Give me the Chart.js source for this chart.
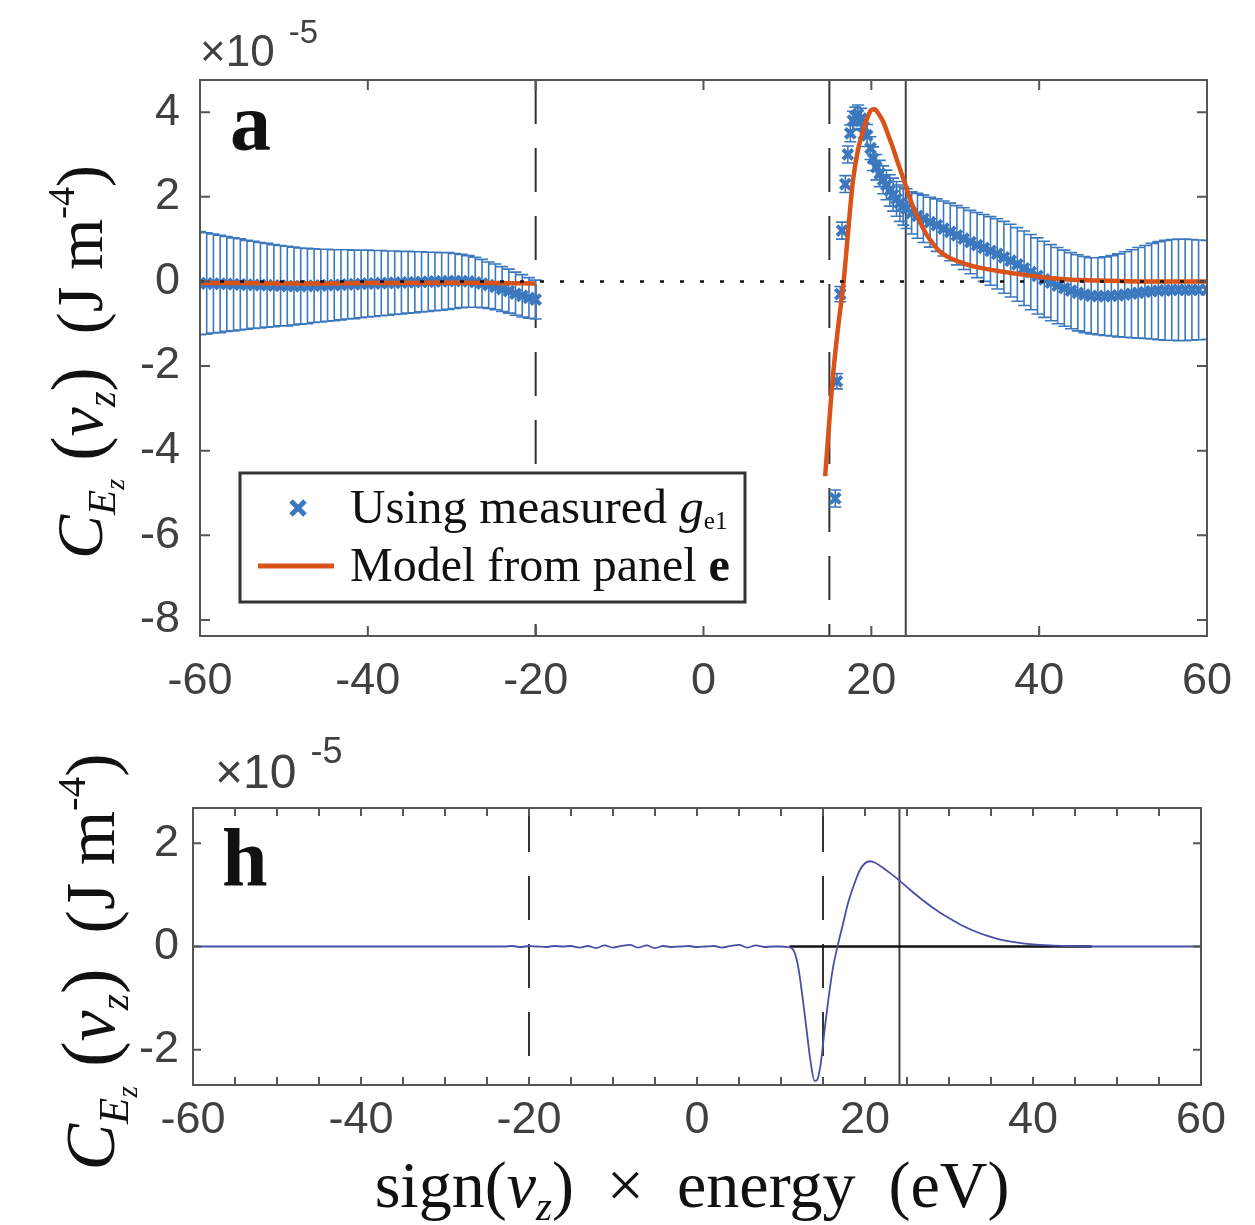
<!DOCTYPE html>
<html>
<head>
<meta charset="utf-8">
<script src="https://cdn.jsdelivr.net/npm/chart.js@4.4.1/dist/chart.umd.min.js"></script>
<style>
  html, body { margin: 0; padding: 0; background: #fff; }
  body { width: 1255px; height: 1225px; position: relative; overflow: hidden; }
  canvas { position: absolute; left: 0; }
  #topChart { top: 0; }
  #bottomChart { top: 720px; }
</style>
</head>
<body>
<canvas id="topChart" width="1255" height="720"></canvas>
<canvas id="bottomChart" width="1255" height="505"></canvas>
<script>
// ---- panel a: measured correlation (x1e-5 J m^-4) with error bars ----
const leftE = [
  -60.0, -59.2, -58.4, -57.6, -56.8, -56.0, -55.2, -54.4, -53.6, -52.8,
  -52.0, -51.2, -50.4, -49.6, -48.8, -48.0, -47.2, -46.4, -45.6, -44.8,
  -44.0, -43.2, -42.4, -41.6, -40.8, -40.0, -39.2, -38.4, -37.6, -36.8,
  -36.0, -35.2, -34.4, -33.6, -32.8, -32.0, -31.2, -30.4, -29.6, -28.8,
  -28.0, -27.2, -26.4, -25.6, -24.8, -24.0, -23.2, -22.4, -21.6, -20.8,
  -20.0]
const leftC = [
  -0.04, -0.05, -0.05, -0.06, -0.06, -0.07, -0.07, -0.08, -0.08, -0.09,
  -0.09, -0.10, -0.10, -0.11, -0.11, -0.11, -0.11, -0.10, -0.10, -0.09,
  -0.09, -0.08, -0.07, -0.07, -0.06, -0.05, -0.05, -0.04, -0.04, -0.03,
  -0.03, -0.02, -0.02, -0.01, -0.01, 0.00, 0.00, 0.01, 0.01, 0.01,
  0.00, -0.02, -0.05, -0.09, -0.13, -0.18, -0.23, -0.29, -0.34, -0.39,
  -0.43]
const leftErr = [
  1.22, 1.20, 1.17, 1.15, 1.12, 1.10, 1.08, 1.05, 1.03, 1.01,
  0.99, 0.97, 0.95, 0.94, 0.92, 0.90, 0.89, 0.87, 0.86, 0.85,
  0.84, 0.83, 0.82, 0.81, 0.80, 0.79, 0.78, 0.77, 0.76, 0.75,
  0.74, 0.73, 0.72, 0.71, 0.70, 0.69, 0.68, 0.67, 0.65, 0.63,
  0.61, 0.59, 0.57, 0.55, 0.54, 0.53, 0.52, 0.51, 0.50, 0.48,
  0.46]

const rightE = [
  15.7, 15.9, 16.3, 16.5, 16.9, 17.2, 17.5, 17.8, 18.1, 18.4,
  18.8, 19.1, 19.5, 19.9, 20.2, 20.6, 21.0, 21.4, 21.8, 22.2,
  22.6, 23.0, 23.4, 23.8, 24.2, 24.8, 25.5, 26.2, 27.0, 27.8,
  28.6, 29.4, 30.2, 31.0, 31.8, 32.6, 33.4, 34.2, 35.0, 35.8,
  36.6, 37.4, 38.2, 39.0, 39.8, 40.6, 41.4, 42.2, 43.0, 43.8,
  44.6, 45.4, 46.2, 47.0, 47.8, 48.6, 49.4, 50.2, 51.0, 51.8,
  52.6, 53.4, 54.2, 55.0, 55.8, 56.6, 57.4, 58.2, 59.0, 60.0]
const rightC = [
  -5.13, -2.36, -0.30, 1.20, 2.30, 3.00, 3.50, 3.80, 3.90, 3.95,
  3.85, 3.65, 3.45, 3.15, 2.90, 2.70, 2.55, 2.40, 2.28, 2.15,
  2.05, 1.95, 1.85, 1.78, 1.72, 1.62, 1.55, 1.48, 1.40, 1.33,
  1.25, 1.17, 1.09, 1.01, 0.93, 0.86, 0.79, 0.72, 0.65, 0.57,
  0.49, 0.40, 0.31, 0.22, 0.13, 0.05, -0.03, -0.10, -0.16, -0.22,
  -0.27, -0.31, -0.34, -0.35, -0.35, -0.34, -0.33, -0.31, -0.29, -0.27,
  -0.25, -0.23, -0.22, -0.21, -0.20, -0.20, -0.20, -0.20, -0.20, -0.20]
const rightErr = [
  0.20, 0.18, 0.18, 0.20, 0.20, 0.20, 0.20, 0.22, 0.22, 0.22,
  0.24, 0.25, 0.26, 0.27, 0.28, 0.30, 0.31, 0.33, 0.35, 0.37,
  0.39, 0.41, 0.43, 0.45, 0.47, 0.50, 0.53, 0.56, 0.59, 0.62,
  0.65, 0.68, 0.70, 0.73, 0.75, 0.77, 0.79, 0.81, 0.83, 0.85,
  0.86, 0.87, 0.88, 0.89, 0.90, 0.90, 0.90, 0.90, 0.90, 0.90,
  0.90, 0.90, 0.90, 0.91, 0.93, 0.95, 0.98, 1.01, 1.04, 1.07,
  1.10, 1.13, 1.16, 1.18, 1.19, 1.20, 1.20, 1.19, 1.18, 1.17]

// model from panel e
const modelLeftE = [-60, -55, -50, -45, -40, -35, -30, -25, -20]
const modelLeftC = [-0.04, -0.04, -0.05, -0.05, -0.04, -0.04, -0.03, -0.04, -0.05]
const modelRightE = [
  14.5, 15.4, 16.0, 16.7, 17.2, 17.8, 18.4, 19.0, 19.6, 20.0,
  20.4, 20.8, 21.4, 22.0, 22.5, 23.0, 23.6, 24.2, 24.8, 25.4,
  26.0, 26.6, 27.4, 28.2, 29.5, 31.4, 33.0, 35.3, 38.0, 41.3,
  44.0, 47.3, 52.0, 56.0, 60.0]
const modelRightC = [
  -4.60, -2.30, -1.15, 0.00, 1.10, 2.36, 3.10, 3.55, 3.90, 4.05,
  4.07, 3.98, 3.78, 3.47, 3.20, 2.90, 2.55, 2.20, 1.85, 1.58,
  1.32, 1.10, 0.88, 0.70, 0.54, 0.40, 0.32, 0.24, 0.16, 0.08,
  0.04, 0.02, 0.00, 0.00, 0.00]

// ---- panel h ----
const hE = [
  -60, -23, -22, -21, -20, -19, -18, -17, -16, -15,
  -14, -13, -12, -11, -10, -9, -8, -7, -6, -5,
  -4, -3, -2, -1, 0, 1, 2, 3, 4, 5,
  6, 7, 8, 9, 10, 10.8, 11.4, 12.0, 12.5, 13.0,
  13.5, 14.0, 14.3, 14.7, 15.2, 15.7, 16.2, 16.8, 17.4, 18.0,
  18.7, 19.4, 20.0, 20.6, 21.2, 22.0, 23.0, 24.0, 25.0, 26.0,
  27.0, 28.0, 29.0, 30.0, 31.5, 33.0, 34.5, 36.0, 38.0, 40.0,
  42.0, 44.0, 46.0, 48.0, 60.0]
const hC = [
  0.00, 0.00, 0.01, -0.01, 0.01, 0.00, -0.01, 0.01, 0.00, 0.01,
  -0.02, 0.01, -0.03, 0.02, -0.02, 0.01, 0.03, -0.02, 0.02, -0.03,
  0.01, -0.01, 0.00, 0.01, -0.01, 0.00, 0.01, -0.02, 0.01, 0.03,
  -0.02, 0.02, -0.01, 0.00, 0.00, -0.01, -0.05, -0.35, -0.90, -1.55,
  -2.20, -2.60, -2.58, -2.30, -1.60, -0.95, -0.40, 0.05, 0.45, 0.85,
  1.20, 1.48, 1.61, 1.65, 1.62, 1.54, 1.42, 1.29, 1.15, 1.01,
  0.88, 0.76, 0.65, 0.55, 0.41, 0.30, 0.21, 0.14, 0.08, 0.04,
  0.02, 0.01, 0.00, 0.00, 0.00]
const hZeroE = [11, 47]
const hZeroC = [0, 0]

// axes and reference lines
const xTickLabels = [-60, -40, -20, 0, 20, 40, 60]
const xMinorTicks = [-55, -50, -45, -35, -30, -25, -15, -10, -5, 5, 10, 15, 25, 30, 35, 45, 50, 55]
const topYTicks = [-8, -6, -4, -2, 0, 2, 4]
const bottomYTicks = [-2, 0, 2]
const dashedE = [-20, 15]
const solidE = [24.1]

const BLUE = '#3B78BE'
const ORANGE = '#D95319'
const NAVY = '#4A4EA6'
const TICK_FONT = 'Liberation Sans, Arial, sans-serif'
const SERIF = 'Liberation Serif, Times New Roman, serif'

const pts = (xs, ys) => xs.map((x, i) => ({x, y: ys[i]}))

// draw a row of text pieces with their own font and vertical shift
function runs(ctx, parts, size) {
  return parts.map(p => {
    ctx.font = (p.style || '') + ' ' + Math.round(size * (p.s || 1)) + 'px ' + SERIF
    return {...p, w: ctx.measureText(p.t).width, font: ctx.font}
  })
}
function drawRuns(ctx, parts, size, x, y, align) {
  const r = runs(ctx, parts, size)
  const total = r.reduce((a, p) => a + p.w, 0)
  let cx = align === 'center' ? x - total / 2 : x
  r.forEach(p => {
    ctx.font = p.font
    ctx.fillText(p.t, cx, y + (p.dy || 0) * size)
    cx += p.w
  })
}

const yLabelParts = [
  {t: 'C', style: 'italic'},
  {t: 'E', style: 'italic', s: 0.62, dy: 0.2},
  {t: 'z', style: 'italic', s: 0.42, dy: 0.33},
  {t: ' (', s: 1.1},
  {t: 'v', style: 'italic'},
  {t: 'z', style: 'italic', s: 0.6, dy: 0.2},
  {t: ')', s: 1.1},
  {t: '  (J m'},
  {t: '-4', s: 0.58, dy: -0.42},
  {t: ')'}
]

function vLine(chart, e, pattern, color, width) {
  const {ctx, chartArea: a, scales: {x}} = chart
  const px = x.getPixelForValue(e)
  ctx.save()
  ctx.strokeStyle = color
  ctx.lineWidth = width
  ctx.setLineDash(pattern)
  ctx.beginPath()
  ctx.moveTo(px, a.top)
  ctx.lineTo(px, a.bottom)
  ctx.stroke()
  ctx.restore()
}

function frame(chart, xt, yt, len) {
  const {ctx, chartArea: a, scales: {x, y}} = chart
  ctx.save()
  ctx.strokeStyle = '#555'
  ctx.lineWidth = 2
  ctx.strokeRect(a.left, a.top, a.right - a.left, a.bottom - a.top)
  ctx.beginPath()
  xt.forEach(v => {
    const p = x.getPixelForValue(v)
    ctx.moveTo(p, a.bottom); ctx.lineTo(p, a.bottom - len)
    ctx.moveTo(p, a.top); ctx.lineTo(p, a.top + len)
  })
  yt.forEach(v => {
    const p = y.getPixelForValue(v)
    ctx.moveTo(a.left, p); ctx.lineTo(a.left + len, p)
    ctx.moveTo(a.right, p); ctx.lineTo(a.right - len, p)
  })
  ctx.stroke()
  ctx.restore()
}

function exponent(ctx, x, y, size) {
  ctx.save()
  ctx.fillStyle = '#404040'
  ctx.font = size + 'px ' + TICK_FONT
  ctx.fillText('\u00d710', x, y)
  const w = ctx.measureText('\u00d710').width
  ctx.font = Math.round(size * 0.74) + 'px ' + TICK_FONT
  ctx.fillText('-5', x + w + 14, y - size * 0.52)
  ctx.restore()
}

function yLabel(ctx, bx, cy, size) {
  ctx.save()
  ctx.fillStyle = '#111'
  ctx.translate(bx, cy)
  ctx.rotate(-Math.PI / 2)
  drawRuns(ctx, yLabelParts, size, 0, 0, 'center')
  ctx.restore()
}

const topPlugin = {
  id: 'topPanel',
  beforeDatasetsDraw(chart) {
    const {ctx, chartArea: a, scales: {x, y}} = chart
    dashedE.forEach(e => vLine(chart, e, [44, 24], '#333', 2))
    solidE.forEach(e => vLine(chart, e, [], '#444', 2))
    // error bars
    ctx.save()
    ctx.beginPath()
    ctx.rect(a.left, a.top, a.right - a.left, a.bottom - a.top)
    ctx.clip()
    ctx.strokeStyle = BLUE
    ctx.lineWidth = 1.6
    const bars = (xs, ys, es) => xs.forEach((e, i) => {
      const px = x.getPixelForValue(e)
      const hi = y.getPixelForValue(ys[i] + es[i])
      const lo = y.getPixelForValue(ys[i] - es[i])
      ctx.moveTo(px, hi); ctx.lineTo(px, lo)
      ctx.moveTo(px - 6, hi); ctx.lineTo(px + 6, hi)
      ctx.moveTo(px - 6, lo); ctx.lineTo(px + 6, lo)
    })
    ctx.beginPath()
    bars(leftE, leftC, leftErr)
    bars(rightE, rightC, rightErr)
    ctx.stroke()
    ctx.restore()
  },
  afterDatasetsDraw(chart) {
    const {ctx, chartArea: a, scales: {y}} = chart
    const p = y.getPixelForValue(0)
    ctx.save()
    ctx.strokeStyle = '#111'
    ctx.lineWidth = 2.5
    ctx.setLineDash([4, 16])
    ctx.beginPath()
    ctx.moveTo(a.left, p)
    ctx.lineTo(a.right, p)
    ctx.stroke()
    ctx.restore()
  },
  afterDraw(chart) {
    const {ctx} = chart
    frame(chart, xTickLabels, topYTicks, 10)
    exponent(ctx, 200, 66, 44)
    yLabel(ctx, 102, 362, 66)
    // panel letter
    ctx.save()
    ctx.fillStyle = '#111'
    ctx.font = 'bold 82px ' + SERIF
    ctx.fillText('a', 230, 150)
    // legend
    ctx.fillStyle = '#fff'
    ctx.fillRect(240, 473, 505, 129)
    ctx.strokeStyle = '#333'
    ctx.lineWidth = 3
    ctx.strokeRect(240, 473, 505, 129)
    ctx.strokeStyle = BLUE
    ctx.lineWidth = 5
    ctx.beginPath()
    ctx.moveTo(291, 501); ctx.lineTo(305, 515)
    ctx.moveTo(305, 501); ctx.lineTo(291, 515)
    ctx.stroke()
    ctx.strokeStyle = ORANGE
    ctx.lineWidth = 5
    ctx.beginPath()
    ctx.moveTo(258, 566); ctx.lineTo(334, 566)
    ctx.stroke()
    ctx.fillStyle = '#111'
    drawRuns(ctx, [
      {t: 'Using measured '},
      {t: 'g', style: 'italic'},
      {t: 'e1', s: 0.5, dy: 0.12}
    ], 49, 350, 523)
    drawRuns(ctx, [
      {t: 'Model from panel '},
      {t: 'e', style: 'bold'}
    ], 48, 350, 581)
    ctx.restore()
  }
}

const bottomPlugin = {
  id: 'bottomPanel',
  beforeDatasetsDraw(chart) {
    dashedE.forEach(e => vLine(chart, e, [44, 24], '#333', 2))
    solidE.forEach(e => vLine(chart, e, [], '#444', 2))
  },
  afterDraw(chart) {
    const {ctx} = chart
    frame(chart, xTickLabels.concat(xMinorTicks), bottomYTicks, 8)
    exponent(ctx, 215, 68, 48)
    yLabel(ctx, 114, 242, 70)
    ctx.save()
    ctx.fillStyle = '#111'
    ctx.font = 'bold 82px ' + SERIF
    ctx.fillText('h', 222, 165)
    drawRuns(ctx, [
      {t: 'sign(', s: 1},
      {t: 'v', style: 'italic'},
      {t: 'z', style: 'italic', s: 0.62, dy: 0.2},
      {t: ')  \u00d7  energy  (eV)'}
    ], 66, 692, 487, 'center')
    ctx.restore()
  }
}

function axes(yMin, yMax, yTicks, cfg) {
  return {
    x: {
      type: 'linear', min: -60, max: 60,
      grid: {display: false}, border: {display: false},
      afterBuildTicks: s => { s.ticks = xTickLabels.map(v => ({value: v})) },
      afterFit: s => { s.height = cfg.xHeight },
      ticks: {font: {family: TICK_FONT, size: cfg.font}, color: '#404040', padding: cfg.xPad,
              maxRotation: 0, autoSkip: false, callback: v => String(v)}
    },
    y: {
      type: 'linear', min: yMin, max: yMax,
      grid: {display: false}, border: {display: false},
      afterBuildTicks: s => { s.ticks = yTicks.map(v => ({value: v})) },
      afterFit: s => { s.width = cfg.yWidth },
      ticks: {font: {family: TICK_FONT, size: cfg.font}, color: '#404040', padding: cfg.yPad,
              callback: v => String(v)}
    }
  }
}

const common = {
  responsive: false,
  animation: false,
  plugins: {legend: {display: false}, tooltip: {enabled: false}}
}

new Chart(document.getElementById('topChart'), {
  type: 'scatter',
  data: {
    datasets: [
      {data: pts(modelRightE, modelRightC), showLine: true, borderColor: ORANGE, borderWidth: 4.5,
       pointRadius: 0, cubicInterpolationMode: 'monotone'},
      {data: pts(modelLeftE, modelLeftC), showLine: true, borderColor: ORANGE, borderWidth: 4.5,
       pointRadius: 0},
      {data: pts(rightE, rightC), pointStyle: 'crossRot', pointRadius: 7, borderWidth: 4,
       borderColor: BLUE, backgroundColor: BLUE},
      {data: pts(leftE, leftC), pointStyle: 'crossRot', pointRadius: 7, borderWidth: 4,
       borderColor: BLUE, backgroundColor: BLUE}
    ]
  },
  options: {
    ...common,
    layout: {padding: {left: 0, right: 48, top: 80, bottom: 0}},
    scales: axes(-8.38, 4.76, topYTicks, {xHeight: 84, yWidth: 200, font: 45, xPad: 11, yPad: 12})
  },
  plugins: [topPlugin]
})

new Chart(document.getElementById('bottomChart'), {
  type: 'scatter',
  data: {
    datasets: [
      {data: pts(hE, hC), showLine: true, borderColor: NAVY, borderWidth: 1.8,
       pointRadius: 0, cubicInterpolationMode: 'monotone'},
      {data: pts(hZeroE, hZeroC), showLine: true, borderColor: '#111', borderWidth: 2.5,
       pointRadius: 0}
    ]
  },
  options: {
    ...common,
    layout: {padding: {left: 0, right: 54, top: 88, bottom: 0}},
    scales: axes(-2.68, 2.68, bottomYTicks, {xHeight: 140, yWidth: 193, font: 45, xPad: 1, yPad: 6})
  },
  plugins: [bottomPlugin]
})
</script>
</body>
</html>
